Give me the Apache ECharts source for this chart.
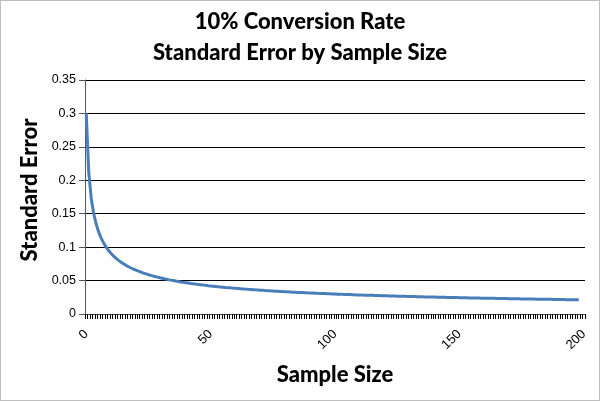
<!DOCTYPE html>
<html><head><meta charset="utf-8">
<script src="https://cdn.jsdelivr.net/npm/echarts@6/dist/echarts.min.js"></script>
<style>html,body{margin:0;padding:0;background:#fff}#c{width:598px;height:399px;border:1px solid #bfbfbf}</style>
</head><body><div id="c"></div>
<script>
// Sample sizes shown on the category axis
const sampleSizes = [];
for (let i = 0; i <= 200; i++) sampleSizes.push(String(i));
// Standard error values (first point at the "0" category)
const standardError = [
0.3000,0.2121,0.1732,0.1500,0.1342,0.1225,0.1134,0.1061,0.1000,0.0949,
0.0905,0.0866,0.0832,0.0802,0.0775,0.0750,0.0728,0.0707,0.0688,0.0671,
0.0655,0.0640,0.0626,0.0612,0.0600,0.0588,0.0577,0.0567,0.0557,0.0548,
0.0539,0.0530,0.0522,0.0514,0.0507,0.0500,0.0493,0.0487,0.0480,0.0474,
0.0469,0.0463,0.0457,0.0452,0.0447,0.0442,0.0438,0.0433,0.0429,0.0424,
0.0420,0.0416,0.0412,0.0408,0.0405,0.0401,0.0397,0.0394,0.0391,0.0387,
0.0384,0.0381,0.0378,0.0375,0.0372,0.0369,0.0367,0.0364,0.0361,0.0359,
0.0356,0.0354,0.0351,0.0349,0.0346,0.0344,0.0342,0.0340,0.0338,0.0335,
0.0333,0.0331,0.0329,0.0327,0.0325,0.0323,0.0322,0.0320,0.0318,0.0316,
0.0314,0.0313,0.0311,0.0309,0.0308,0.0306,0.0305,0.0303,0.0302,0.0300,
0.0299,0.0297,0.0296,0.0294,0.0293,0.0291,0.0290,0.0289,0.0287,0.0286,
0.0285,0.0283,0.0282,0.0281,0.0280,0.0279,0.0277,0.0276,0.0275,0.0274,
0.0273,0.0272,0.0271,0.0269,0.0268,0.0267,0.0266,0.0265,0.0264,0.0263,
0.0262,0.0261,0.0260,0.0259,0.0258,0.0257,0.0256,0.0255,0.0254,0.0254,
0.0253,0.0252,0.0251,0.0250,0.0249,0.0248,0.0247,0.0247,0.0246,0.0245,
0.0244,0.0243,0.0243,0.0242,0.0241,0.0240,0.0239,0.0239,0.0238,0.0237,
0.0236,0.0236,0.0235,0.0234,0.0234,0.0233,0.0232,0.0231,0.0231,0.0230,
0.0229,0.0229,0.0228,0.0227,0.0227,0.0226,0.0225,0.0225,0.0224,0.0224,
0.0223,0.0222,0.0222,0.0221,0.0221,0.0220,0.0219,0.0219,0.0218,0.0218,
0.0217,0.0217,0.0216,0.0215,0.0215,0.0214,0.0214,0.0213,0.0213
];
const titleLines = ['10% Conversion Rate', 'Standard Error by Sample Size'];
const xName = 'Sample Size';
const yName = 'Standard Error';

const chart = echarts.init(document.getElementById('c'), null, {renderer: 'canvas'});
chart.setOption({
  animation: false,
  title: {
    text: titleLines.join('\n'),
    left: 'center', top: 0,
    textStyle: {fontFamily: 'Lato', fontWeight: 900, fontSize: 22, color: '#000', lineHeight: 31}
  },
  grid: {left: 84, right: 14, top: 79, bottom: 86, containLabel: false, outerBoundsMode: 'none'},
  xAxis: {
    type: 'category',
    data: sampleSizes,
    boundaryGap: true,
    name: xName,
    nameLocation: 'middle',
    nameGap: 50,
    nameTextStyle: {fontFamily: 'Lato', fontWeight: 900, fontSize: 22, color: '#000'},
    axisLine: {lineStyle: {color: '#595959', width: 1}},
    axisTick: {show: true, interval: 0, length: 5, lineStyle: {color: '#000', width: 1}},
    axisLabel: {interval: 49, rotate: 45, margin: 18, fontFamily: 'Liberation Sans', fontSize: 13, color: '#000'},
    splitLine: {show: false}
  },
  yAxis: {
    type: 'value',
    min: 0, max: 0.35, interval: 0.05,
    name: yName,
    nameLocation: 'middle',
    nameGap: 44,
    nameTextStyle: {fontFamily: 'Lato', fontWeight: 900, fontSize: 22, color: '#000', padding: [0, 0, 0, 14]},
    axisLine: {show: true, lineStyle: {color: '#595959', width: 1}},
    axisTick: {show: true, length: 6, lineStyle: {color: '#595959'}},
    axisLabel: {margin: 9, fontFamily: 'Liberation Sans', fontSize: 12.5, color: '#000'},
    splitLine: {show: true, lineStyle: {color: '#000', width: 1}}
  },
  series: [{
    type: 'line',
    data: standardError,
    showSymbol: false,
    symbol: 'none',
    lineStyle: {color: '#4a7ebb', width: 3},
    itemStyle: {color: '#4a7ebb'}
  }]
});
</script></body></html>
